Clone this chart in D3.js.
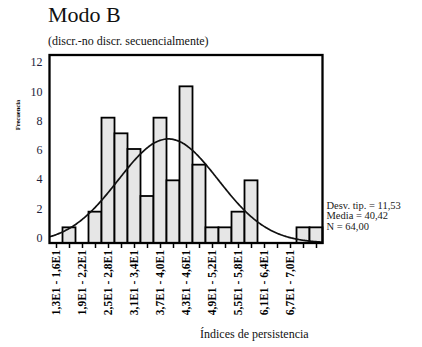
<!DOCTYPE html>
<html>
<head>
<meta charset="utf-8">
<script src="https://cdn.jsdelivr.net/npm/d3@7"></script>
<style>
  html, body { margin: 0; padding: 0; background: #fff; }
  svg { display: block; }
  svg text { font-family: "Liberation Serif", "Times New Roman", "DejaVu Serif", serif; }
</style>
</head>
<body>
<svg id="chart" width="422" height="347"></svg>
<script>
// Histogram of persistence indices (Modo B), 21 classes of width 3 starting at 13
const binStart = 13;
const binWidth = 3;
const frequencies = [0, 1, 0, 2, 8, 7, 6, 3, 8, 4, 10, 5, 1, 1, 2, 4, 0, 0, 0, 1, 1];
const yTicks = [0, 2, 4, 6, 8, 10, 12];
const xTickLabels = [
  "1,3E1 - 1,6E1", "1,9E1 - 2,2E1", "2,5E1 - 2,8E1", "3,1E1 - 3,4E1", "3,7E1 - 4,0E1",
  "4,3E1 - 4,6E1", "4,9E1 - 5,2E1", "5,5E1 - 5,8E1", "6,1E1 - 6,4E1", "6,7E1 - 7,0E1"
];
const statLines = ["Desv. tip. = 11,53", "Media = 40,42", "N = 64,00"];
const stdDev = 11.53;
const mean = 40.42;
const n = 64;

const serif = "Liberation Serif, Times New Roman, serif";
const svg = d3.select("#chart");

const frame = { left: 49.5, right: 322.5, top: 55, bottom: 243 };
const domainMax = binStart + binWidth * frequencies.length;

const x = d3.scaleLinear().domain([binStart, domainMax]).range([frame.left, frame.right]);
const y = d3.scaleLinear().domain([0, 12]).range([frame.bottom, frame.top]);
// tick numbers sit on their own, slightly tighter, ladder beside the frame
const yLabel = d3.scaleLinear().domain([0, 12]).range([237.5, 62]);

const bins = frequencies.map((f, i) => ({ x0: binStart + i * binWidth, x1: binStart + (i + 1) * binWidth, f }));

// title block
svg.append("text").attr("x", 48).attr("y", 22)
  .attr("font-family", serif).attr("font-size", 22).attr("fill", "#111").text("Modo B");
svg.append("text").attr("x", 48).attr("y", 45)
  .attr("font-family", serif).attr("font-size", 12).attr("fill", "#111").text("(discr.-no discr. secuencialmente)");

// bars
svg.append("g").selectAll("rect")
  .data(bins.filter(d => d.f > 0))
  .join("rect")
  .attr("x", d => x(d.x0))
  .attr("y", d => y(d.f))
  .attr("width", d => x(d.x1) - x(d.x0))
  .attr("height", d => y(0) - y(d.f))
  .attr("fill", "#e6e6e6")
  .attr("stroke", "#000")
  .attr("stroke-width", 1.8);

// fitted normal curve scaled to counts
const curvePts = d3.range(binStart, domainMax + 0.001, 0.25).map(v => {
  const z = (v - mean) / stdDev;
  return [v, n * binWidth * Math.exp(-0.5 * z * z) / (stdDev * Math.sqrt(2 * Math.PI))];
});
svg.append("path")
  .datum(curvePts)
  .attr("fill", "none")
  .attr("stroke", "#111")
  .attr("stroke-width", 1.7)
  .attr("d", d3.line().x(d => x(d[0])).y(d => y(d[1])).curve(d3.curveBasis));

// plot frame
svg.append("rect")
  .attr("x", frame.left).attr("y", frame.top)
  .attr("width", frame.right - frame.left).attr("height", frame.bottom - frame.top)
  .attr("fill", "none").attr("stroke", "#000").attr("stroke-width", 2.3);

// y axis numbers
const yAxis = d3.axisLeft(yLabel).tickValues(yTicks).tickSize(0).tickPadding(0).tickFormat(d3.format("d"));
const gy = svg.append("g").attr("transform", "translate(42.5,0)").call(yAxis);
gy.attr("font-family", serif);
gy.select(".domain").remove();
gy.selectAll("text").attr("font-family", serif).attr("font-size", 12).attr("fill", "#1c1c3a");

// y axis title
svg.append("text")
  .attr("transform", "translate(20,115) rotate(-90)")
  .attr("text-anchor", "middle")
  .attr("font-family", serif)
  .attr("font-size", 6.5).attr("font-weight", "bold").attr("fill", "#000")
  .text("Frecuencia");

// x axis: ticks at class midpoints, labels on every second class
const centers = bins.map(d => (d.x0 + d.x1) / 2);
const xAxis = d3.axisBottom(x).tickValues(centers).tickSize(5).tickFormat("");
const gx = svg.append("g").attr("transform", `translate(0,${frame.bottom})`).call(xAxis);
gx.select(".domain").remove();
gx.selectAll("line").attr("stroke", "#000").attr("stroke-width", 1.5);

svg.append("g").selectAll("text")
  .data(xTickLabels)
  .join("text")
  .attr("transform", (d, i) => `translate(${x(centers[i * 2])},250) rotate(-90)`)
  .attr("text-anchor", "end")
  .attr("dy", "0.35em")
  .attr("font-family", serif)
  .attr("font-size", 11.5).attr("font-weight", "bold").attr("fill", "#000")
  .text(d => d);

// x axis title
svg.append("text").attr("x", 200).attr("y", 338)
  .attr("font-family", serif)
  .attr("font-size", 12).attr("fill", "#111").text("Índices de persistencia");

// summary statistics
svg.append("g").selectAll("text")
  .data(statLines)
  .join("text")
  .attr("x", 326.5)
  .attr("y", (d, i) => 208.5 + i * 10.5)
  .attr("font-family", serif)
  .attr("font-size", 10.5).attr("fill", "#1a1a1a")
  .text(d => d);
</script>
</body>
</html>
